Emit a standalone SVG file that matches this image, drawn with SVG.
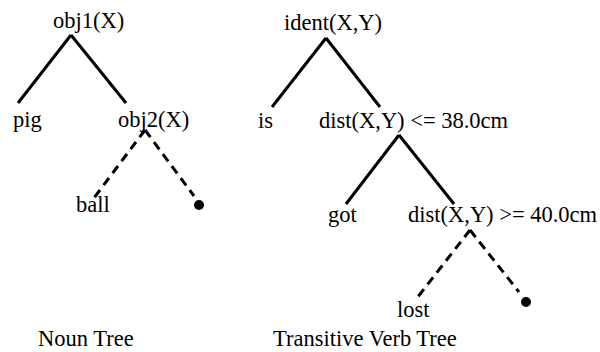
<svg xmlns="http://www.w3.org/2000/svg" width="600" height="352" viewBox="0 0 600 352">
<style>
text{font-family:"Liberation Serif","Times New Roman",Times,serif;font-size:22.5px;fill:#000}
.e{stroke:#000;stroke-width:3;fill:none}
.d{stroke-dasharray:9 6}
</style>
<rect width="600" height="352" fill="#fff"/>
<g id="connectors">
<line class="e" x1="71" y1="35" x2="18" y2="103"/>
<line class="e" x1="71" y1="35" x2="126" y2="103"/>
<line class="e d" x1="145" y1="130" x2="91" y2="202"/>
<line class="e d" x1="145" y1="130" x2="194" y2="196"/>
<line class="e" x1="326" y1="38" x2="272" y2="107"/>
<line class="e" x1="326" y1="38" x2="380" y2="107"/>
<line class="e" x1="399" y1="135" x2="346" y2="204"/>
<line class="e" x1="399" y1="135" x2="454" y2="204"/>
<line class="e d" x1="470" y1="230" x2="417" y2="298"/>
<line class="e d" x1="470" y1="230" x2="519" y2="292"/>
</g>
<g id="obj1"><text x="53" y="28">obj1(X)</text></g>
<g id="pig"><text x="13" y="127">pig</text></g>
<g id="obj2"><text x="118" y="127">obj2(X)</text></g>
<g id="ball"><text x="76" y="212">ball</text></g>
<g id="dot1"><circle cx="199" cy="205" r="5"/></g>
<g id="ident"><text x="284" y="30">ident(X,Y)</text></g>
<g id="is"><text x="258" y="128">is</text></g>
<g id="dist1"><text x="319" y="128">dist(X,Y) &lt;= 38.0cm</text></g>
<g id="got"><text x="328" y="222">got</text></g>
<g id="dist2"><text x="408" y="222">dist(X,Y) &gt;= 40.0cm</text></g>
<g id="lost"><text x="397" y="317">lost</text></g>
<g id="dot2"><circle cx="526" cy="302" r="5"/></g>
<g id="caption1"><text x="38" y="346">Noun Tree</text></g>
<g id="caption2"><text x="273" y="346">Transitive Verb Tree</text></g>
</svg>
